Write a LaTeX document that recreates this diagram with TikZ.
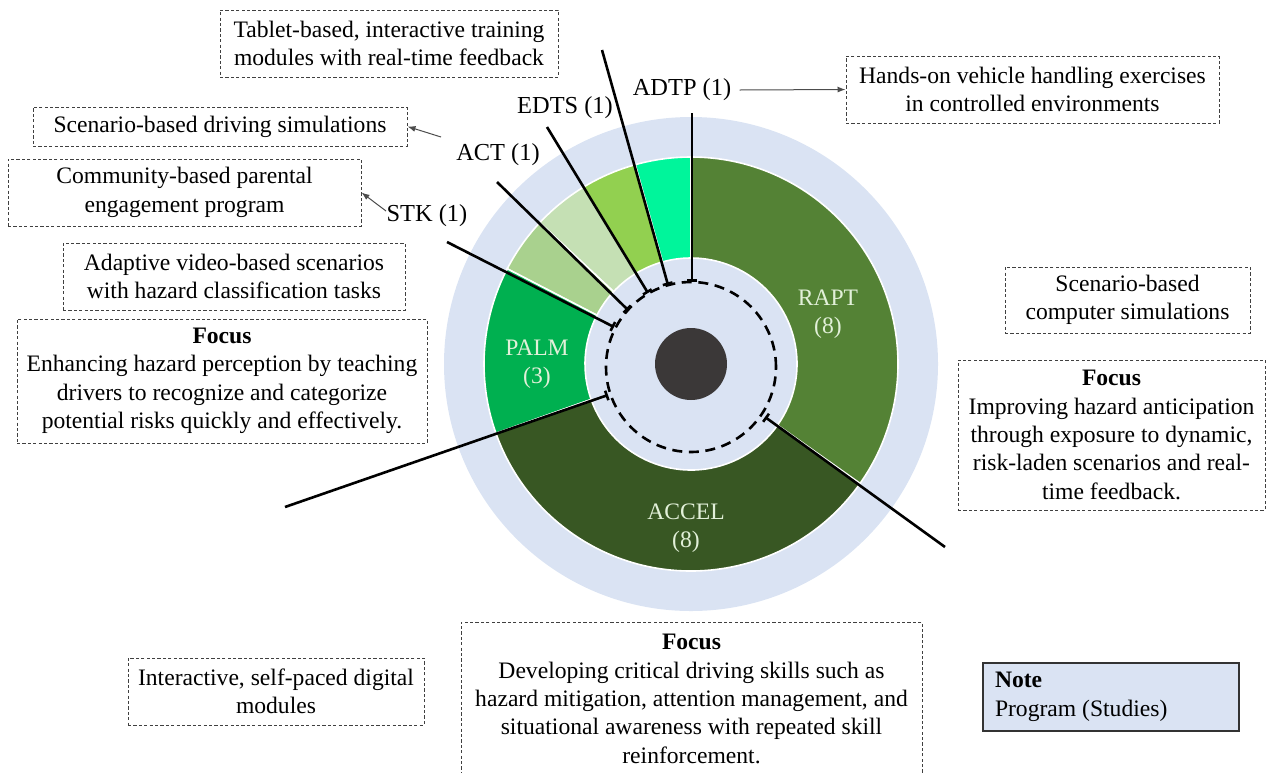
\documentclass[tikz,border=0pt]{standalone}
\usepackage{fontspec}
\setmainfont{Liberation Serif}
\usetikzlibrary{arrows.meta}
\definecolor{ringblue}{HTML}{DAE3F3}
\definecolor{cADTP}{HTML}{00F59B}
\definecolor{cEDTS}{HTML}{92D050}
\definecolor{cACT}{HTML}{C5E0B4}
\definecolor{cSTK}{HTML}{A9D18E}
\definecolor{cPALM}{HTML}{00B050}
\definecolor{cACCEL}{HTML}{385723}
\definecolor{cRAPT}{HTML}{548235}
\definecolor{cCore}{HTML}{3B3838}
\definecolor{segtext}{HTML}{E2F0D9}
\newcommand\ringseg[3]{\fill[#3, draw=white, line width=0.8pt] (#1:106) arc[start angle=#1, end angle=#2, radius=106] -- (#2:207) arc[start angle=#2, end angle=#1, radius=207] -- cycle;}
\begin{document}
\begin{tikzpicture}[x=0.5pt,y=-0.5pt,
  every node/.style={font=\fontsize{11.8}{14.2}\selectfont, inner sep=0pt},
  dbox/.style={draw=black!75, line width=0.5pt, dash pattern=on 1.6pt off 1.1pt, align=center},
  notebox/.style={draw=black!80, line width=0.8pt, fill=ringblue, align=flush left},
  seglabel/.style={text=segtext, align=center},
  proglabel/.style={font=\fontsize{12.2}{14.2}\selectfont},
  leader/.style={line width=1.3pt, {Bar[width=5pt,line width=1.3pt]}-},
  thinarrow/.style={draw=black!70, line width=0.5pt, -{Latex[length=4pt,width=3pt]}}]
\useasboundingbox (0,0) rectangle (1269,772);

% chart
\begin{scope}[shift={(691,364)}, yscale=-1]
  \fill[ringblue] (0,0) circle[radius=247];
  \ringseg{90}{105.652}{cADTP}
  \ringseg{105.652}{121.304}{cEDTS}
  \ringseg{121.304}{136.957}{cACT}
  \ringseg{136.957}{152.609}{cSTK}
  \ringseg{152.609}{199.565}{cPALM}
  \ringseg{199.565}{324.783}{cACCEL}
  \ringseg{-35.217}{90}{cRAPT}
  \draw[line width=1.3pt, dash pattern=on 5pt off 3.3pt] (0,-3) circle[radius=85];
  \fill[cCore] (0,0) circle[radius=36];
\end{scope}

% segment labels
\node[seglabel] (rapt) at (828,314) {RAPT\\(8)};
\node[seglabel] (palm) at (537,364) {PALM\\(3)};
\node[seglabel] (accel) at (686,528) {ACCEL\\(8)};

% small program labels
\node[proglabel] (adtp) at (682,90) {ADTP (1)};
\node[proglabel] (edts) at (565,108) {EDTS (1)};
\node[proglabel] (act) at (498,155) {ACT (1)};
\node[proglabel] (stk) at (427,216) {STK (1)};

% leader lines
\coordinate (l1i) at (692,282); \coordinate (l1o) at (692,113);
\coordinate (l2i) at (668,285); \coordinate (l2o) at (602,50);
\coordinate (l3i) at (648,293); \coordinate (l3o) at (547,127);
\coordinate (l4i) at (628,310); \coordinate (l4o) at (497,182);
\coordinate (l5i) at (614,327); \coordinate (l5o) at (447,242);
\coordinate (l6i) at (608,395); \coordinate (l6o) at (285,507);
\coordinate (l7i) at (765,417); \coordinate (l7o) at (945,547);
\draw[leader] (l1i) -- (l1o);
\draw[leader] (l2i) -- (l2o);
\draw[leader] (l3i) -- (l3o);
\draw[leader] (l4i) -- (l4o);
\draw[leader] (l5i) -- (l5o);
\draw[leader] (l6i) -- (l6o);
\draw[leader] (l7i) -- (l7o);

% description boxes
\node[dbox, minimum width=169pt, minimum height=33.5pt] (tablet) at (389,43.5)
  {Tablet-based, interactive training\\modules with real-time feedback};
\node[dbox, minimum width=187pt, minimum height=19.5pt] (scendrv) at (220,126.5)
  {Scenario-based driving simulations};
\node[dbox, minimum width=176.5pt, minimum height=33.5pt] (community) at (184.5,192.5)
  {Community-based parental\\engagement program};
\node[dbox, minimum width=171pt, minimum height=33.5pt] (adaptive) at (234,276.5)
  {Adaptive video-based scenarios\\with hazard classification tasks};
\node[dbox, minimum width=205pt, minimum height=62pt] (focusl) at (222,381)
  {\textbf{Focus}\\Enhancing hazard perception by teaching\\drivers to recognize and categorize\\potential risks quickly and effectively.};
\node[dbox, minimum width=186.5pt, minimum height=33.5pt] (hands) at (1032.5,89.5)
  {Hands-on vehicle handling exercises\\in controlled environments};
\node[dbox, minimum width=122.5pt, minimum height=33pt] (scencomp) at (1127.5,300)
  {Scenario-based\\computer simulations};
\node[dbox, minimum width=153.5pt, minimum height=75pt] (focusr) at (1111.5,435)
  {\textbf{Focus}\\Improving hazard anticipation\\through exposure to dynamic,\\risk-laden scenarios and real-\\time feedback.};
\node[dbox, minimum width=148pt, minimum height=33.5pt] (interactive) at (276,691.5)
  {Interactive, self-paced digital\\modules};
\node[dbox, minimum width=230.5pt, minimum height=77pt] (focusb) at (691.5,699)
  {\textbf{Focus}\\Developing critical driving skills such as\\hazard mitigation, attention management, and\\situational awareness with repeated skill\\reinforcement.};
\node[notebox, minimum width=128pt, minimum height=34pt, text width=116pt] (note) at (1111,697)
  {\textbf{Note}\\Program (Studies)};

% arrows
\coordinate (a2s) at (441,137);
\coordinate (a3s) at (386,211);
\draw[thinarrow] (adtp.east) ++(8,0) -- (hands.west);
\draw[thinarrow] (a2s) -- (scendrv.east);
\draw[thinarrow] (a3s) -- (community.east);
\end{tikzpicture}
\end{document}
